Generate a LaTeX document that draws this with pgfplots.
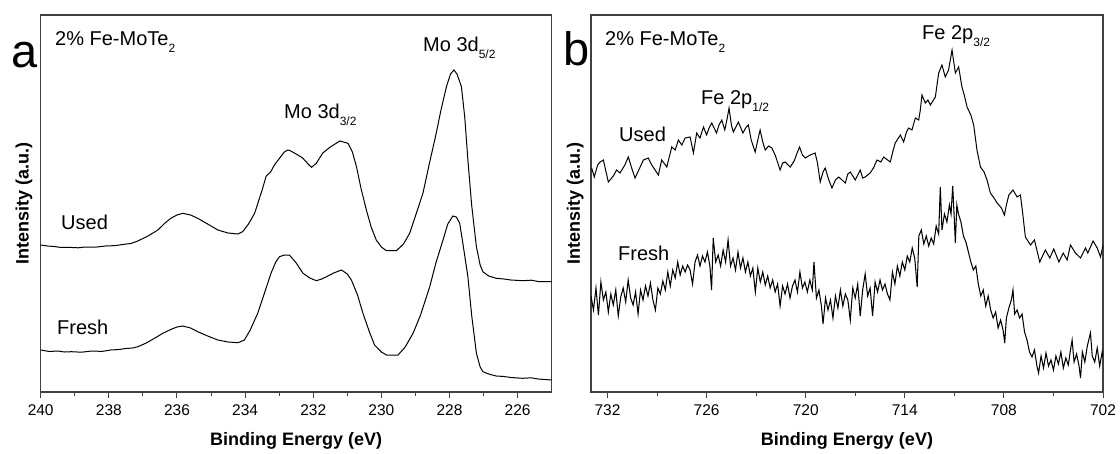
\documentclass[border=0pt]{standalone}
\usepackage{fontspec}
\setmainfont{Liberation Sans}
\usepackage{pgfplots}
\pgfplotsset{compat=1.18}
\newcommand{\lbl}{\fontsize{20}{20}\selectfont}
\newcommand{\sub}[1]{\raisebox{-6.5pt}{\fontsize{12}{12}\selectfont #1}}
\begin{document}
\begin{tikzpicture}
\pgfplotsset{
  xps/.style={
    scale only axis, height=377pt,
    x dir=reverse, ymin=-392, ymax=-15,
    ytick=\empty, xtick pos=left, tick align=outside,
    axis line style={black!75, line width=1.2pt},
    tick style={black!75, line width=1pt},
    major tick length=6pt, minor tick length=4pt,
    minor x tick num=1,
    /pgf/number format/assume math mode=true,
    xticklabel style={font=\fontsize{15.5}{15.5}\selectfont, yshift=-3pt},
    xlabel={\bfseries Binding Energy (eV)},
    ylabel={\bfseries Intensity (a.u.)},
    label style={font=\fontsize{18}{18}\selectfont},
    xlabel style={at={(axis description cs:0.5,-0.1406)}, anchor=base},
    ylabel style={anchor=base},
    clip=true,
  }
}
\begin{axis}[xps, at={(0pt,0pt)}, anchor=south west, width=511pt,
  xmin=225, xmax=240, xtick={226,228,...,240},
  ylabel style={at={(axis description cs:-0.0235,0.5)}}]
\addplot[black, line width=1pt] coordinates {
(240,-245) (239.8,-246) (239.6,-246.5) (239.4,-247.5) (239.2,-247.3) (238.9,-247.8) (238.7,-247) (238.4,-247.2) (238.1,-246) (237.8,-245.6) (237.6,-244.5) (237.35,-243.5) (237.15,-241)
(236.85,-236) (236.56,-230) (236.35,-223) (236.18,-218.3) (236.0,-215) (235.83,-213.3) (235.6,-215) (235.39,-218.3) (235.1,-224) (234.8,-230) (234.5,-233) (234.21,-234) (234.07,-231.7)
(233.9,-224) (233.72,-213.3) (233.5,-190) (233.38,-176) (233.25,-172) (233.14,-165) (232.99,-158.3) (232.85,-152) (232.75,-150) (232.69,-150.5) (232.5,-154) (232.31,-158) (232.15,-164)
(232.05,-167.3) (231.91,-163.3) (231.72,-153) (231.5,-147) (231.22,-141) (230.98,-143.3) (230.85,-152) (230.73,-166.7) (230.6,-188) (230.44,-210) (230.3,-227) (230.15,-240) (230.0,-247)
(229.85,-250.7) (229.56,-250.7) (229.35,-244) (229.17,-233.3) (229.0,-216) (228.78,-193.3) (228.6,-165) (228.39,-133.3) (228.25,-110) (228.09,-86.7) (227.97,-74) (227.87,-70) (227.78,-74)
(227.65,-86.7) (227.55,-118) (227.46,-160) (227.35,-205) (227.21,-246.7) (227.1,-265) (227.02,-271.7) (226.85,-276) (226.63,-278.3) (226.4,-279) (226.2,-280) (225.85,-280.7) (225.6,-280.2) (225.4,-281.5) (225.0,-281.7)
};
\addplot[black, line width=1pt] coordinates {
(240,-350) (239.75,-351.5) (239.5,-351) (239.3,-352) (239.1,-351.7) (238.8,-352.2) (238.5,-351) (238.2,-351.4) (237.94,-350) (237.7,-349.5) (237.5,-348.5) (237.3,-348) (237.15,-346.7)
(236.9,-343) (236.66,-338.3) (236.4,-333) (236.17,-329.3) (236.0,-327) (235.83,-326) (235.6,-328) (235.39,-331.7) (235.1,-336) (234.8,-340) (234.5,-342) (234.21,-342.7) (234.02,-340)
(233.85,-330) (233.63,-313.3) (233.45,-295) (233.24,-273.3) (233.1,-262) (232.99,-256.7) (232.85,-255) (232.7,-255) (232.5,-263) (232.3,-273.3) (232.1,-278) (231.91,-280.7) (231.75,-279)
(231.61,-276.7) (231.4,-273) (231.17,-270) (231.0,-274) (230.88,-280) (230.7,-295) (230.54,-313.3) (230.35,-332) (230.2,-345) (230.0,-352) (229.85,-355) (229.51,-355) (229.3,-347)
(229.07,-333.3) (228.85,-315) (228.58,-286.7) (228.4,-263) (228.19,-240) (228.05,-224) (227.9,-216) (227.8,-217) (227.7,-223.3) (227.6,-245) (227.46,-276.7) (227.35,-315) (227.21,-353.3)
(227.1,-367) (227.02,-371.7) (226.85,-374) (226.63,-376) (226.4,-376.5) (226.2,-377.5) (225.85,-378.3) (225.6,-377.8) (225.4,-379) (225.0,-380)
};
\end{axis}
\begin{axis}[xps, at={(550.3pt,0pt)}, anchor=south west, width=512pt,
  xmin=702, xmax=733, xtick={702,708,...,732},
  ylabel style={at={(axis description cs:-0.0215,0.5)}}]
\addplot[black, line width=1pt] coordinates {
(732.96,-168) (732.8,-177) (732.6,-165) (732.45,-162) (732.25,-160) (731.95,-182) (731.65,-176) (731.45,-170) (731.24,-173) (730.95,-165) (730.74,-157) (730.5,-170) (730.33,-178)
(730.05,-168) (729.83,-160) (729.53,-158) (729.32,-165) (728.92,-175) (728.72,-160) (728.41,-167) (728.11,-147) (727.9,-150) (727.71,-140) (727.5,-145) (727.3,-138) (727.0,-137)
(726.8,-153) (726.6,-133) (726.4,-138) (726.19,-127) (726.0,-135) (725.85,-128) (725.69,-123) (725.4,-133) (725.25,-125) (725.08,-120) (724.9,-130) (724.75,-118) (724.64,-108)
(724.5,-125) (724.38,-132) (724.08,-122) (723.8,-133) (723.6,-127) (723.47,-125) (723.3,-140) (723.06,-152) (722.9,-140) (722.76,-130) (722.6,-142) (722.45,-150) (722.25,-146)
(722.05,-148) (721.85,-155) (721.55,-170) (721.4,-163) (721.25,-162) (720.94,-167) (720.7,-161) (720.5,-152) (720.37,-147) (720.2,-155) (720.03,-158) (719.73,-155) (719.43,-153)
(719.3,-162) (719.12,-182) (718.95,-172) (718.82,-168) (718.6,-180) (718.41,-188) (718.2,-180) (718.0,-177) (717.8,-180) (717.6,-183) (717.45,-174) (717.3,-172) (717.0,-180)
(716.7,-170) (716.55,-178) (716.4,-177) (716.1,-173) (715.9,-168) (715.68,-160) (715.45,-162) (715.28,-157) (714.88,-162) (714.7,-150) (714.58,-143) (714.27,-135) (714.07,-142)
(713.9,-132) (713.77,-128) (713.57,-130) (713.36,-118) (713.16,-120) (713.06,-110) (712.96,-95) (712.76,-103) (712.6,-100) (712.45,-105) (712.15,-97) (711.95,-73) (711.75,-65)
(711.55,-77) (711.35,-70) (711.14,-50) (710.94,-73) (710.74,-67) (710.54,-87) (710.4,-95) (710.23,-107) (710.0,-115) (709.83,-125) (709.63,-150) (709.42,-167) (709.2,-172)
(709.02,-180) (708.82,-193) (708.6,-198) (708.41,-203) (708.15,-208) (707.97,-215) (707.85,-205) (707.7,-195) (707.45,-190) (707.2,-197) (707.0,-195) (706.85,-215) (706.7,-237)
(706.39,-245) (706.15,-240) (705.83,-262) (705.49,-250) (705.22,-258) (704.98,-249) (704.67,-262) (704.41,-253) (704.17,-260) (703.97,-245) (703.67,-253) (703.36,-258) (703.06,-248)
(702.92,-253) (702.6,-241) (702.35,-248) (702.15,-257) (702.0,-245)
};
\addplot[black, line width=1.05pt] coordinates {
(733.00,-296) (732.85,-310) (732.70,-288) (732.55,-315) (732.40,-282) (732.25,-300) (732.10,-292) (731.95,-312) (731.80,-294) (731.65,-305) (731.50,-290) (731.35,-316) (731.20,-297)
(731.05,-288) (730.90,-302) (730.75,-280) (730.60,-298) (730.45,-305) (730.30,-292) (730.15,-314) (730.00,-290) (729.85,-300) (729.70,-286) (729.55,-296) (729.40,-283) (729.25,-300)
(729.10,-310) (728.95,-288) (728.80,-294) (728.65,-281) (728.50,-290) (728.35,-272) (728.20,-286) (728.05,-270) (727.90,-278) (727.75,-262) (727.60,-275) (727.45,-266) (727.30,-272)
(727.15,-265) (727.00,-270) (726.85,-284) (726.70,-262) (726.55,-255) (726.40,-266) (726.25,-256) (726.10,-262) (725.95,-252) (725.80,-266) (725.70,-290) (725.60,-238) (725.45,-262)
(725.30,-255) (725.15,-266) (725.00,-250) (724.85,-262) (724.70,-240) (724.55,-266) (724.40,-258) (724.25,-270) (724.10,-252) (723.95,-268) (723.80,-258) (723.65,-272) (723.50,-262)
(723.35,-276) (723.20,-268) (723.05,-292) (722.90,-268) (722.75,-282) (722.60,-272) (722.45,-285) (722.30,-276) (722.15,-288) (722.00,-280) (721.85,-292) (721.70,-284) (721.55,-306)
(721.40,-286) (721.25,-294) (721.10,-284) (720.95,-298) (720.80,-286) (720.65,-280) (720.50,-292) (720.35,-272) (720.20,-288) (720.05,-282) (719.90,-292) (719.75,-280) (719.60,-290)
(719.50,-262) (719.35,-298) (719.20,-290) (719.05,-306) (718.95,-324) (718.80,-298) (718.65,-310) (718.50,-300) (718.35,-318) (718.20,-296) (718.05,-308) (717.90,-290) (717.75,-306)
(717.60,-294) (717.45,-300) (717.30,-320) (717.15,-288) (717.00,-298) (716.85,-284) (716.70,-316) (716.55,-290) (716.40,-274) (716.25,-296) (716.10,-288) (715.95,-316) (715.80,-282)
(715.65,-292) (715.50,-280) (715.35,-290) (715.20,-284) (715.05,-294) (714.90,-300) (714.75,-272) (714.60,-284) (714.45,-266) (714.30,-276) (714.15,-262) (714.00,-270) (713.85,-256)
(713.70,-262) (713.55,-248) (713.40,-258) (713.25,-287) (713.15,-236) (713.00,-230) (712.85,-244) (712.70,-236) (712.55,-246) (712.40,-238) (712.25,-244) (712.10,-226) (711.95,-234)
(711.85,-187) (711.75,-230) (711.60,-214) (711.45,-222) (711.30,-205) (711.20,-214) (711.10,-186) (711.00,-220) (710.94,-243) (710.85,-205) (710.75,-214) (710.60,-222) (710.45,-236)
(710.30,-242) (710.15,-252) (710.00,-262) (709.85,-270) (709.70,-266) (709.55,-284) (709.40,-296) (709.25,-290) (709.10,-306) (708.95,-296) (708.80,-310) (708.65,-318) (708.50,-312)
(708.35,-328) (708.20,-320) (708.05,-330) (707.95,-343) (707.85,-318) (707.70,-308) (707.55,-300) (707.45,-290) (707.35,-314) (707.20,-310) (707.05,-318) (706.90,-314) (706.75,-332)
(706.60,-340) (706.45,-352) (706.30,-357) (706.15,-350) (706.00,-366) (705.90,-373) (705.75,-356) (705.60,-368) (705.45,-353) (705.30,-366) (705.15,-360) (705.00,-370) (704.85,-356)
(704.70,-364) (704.55,-352) (704.40,-368) (704.25,-358) (704.10,-365) (703.95,-348) (703.87,-340) (703.75,-362) (703.60,-354) (703.45,-366) (703.36,-378) (703.25,-352) (703.10,-362)
(702.95,-346) (702.76,-333) (702.65,-356) (702.50,-362) (702.35,-348) (702.20,-366) (702.05,-352) (702.00,-357)
};
\end{axis}
\begin{scope}[x=1pt, y=-1pt, shift={(-40.7pt,392pt)}]
\path[use as bounding box] (0,0) rectangle (1120,453);
\node[anchor=base west, inner sep=0] at (11,68) {\fontsize{47}{47}\selectfont a};
\node[anchor=base west, inner sep=0] at (563,66) {\fontsize{47}{47}\selectfont b};
\node[anchor=base west, inner sep=0] at (55,46) {\lbl 2\% Fe-MoTe\sub{2}};
\node[anchor=base west, inner sep=0] at (605,46) {\lbl 2\% Fe-MoTe\sub{2}};
\node[anchor=base west, inner sep=0] at (284,119) {\lbl Mo 3d\sub{3/2}};
\node[anchor=base west, inner sep=0] at (423,52) {\lbl Mo 3d\sub{5/2}};
\node[anchor=base west, inner sep=0] at (61,230) {\lbl Used};
\node[anchor=base west, inner sep=0] at (57,335) {\lbl Fresh};
\node[anchor=base west, inner sep=0] at (701,105) {\lbl Fe 2p\sub{1/2}};
\node[anchor=base west, inner sep=0] at (922,40) {\lbl Fe 2p\sub{3/2}};
\node[anchor=base west, inner sep=0] at (619,142) {\lbl Used};
\node[anchor=base west, inner sep=0] at (618,261) {\lbl Fresh};
\end{scope}
\end{tikzpicture}
\end{document}
